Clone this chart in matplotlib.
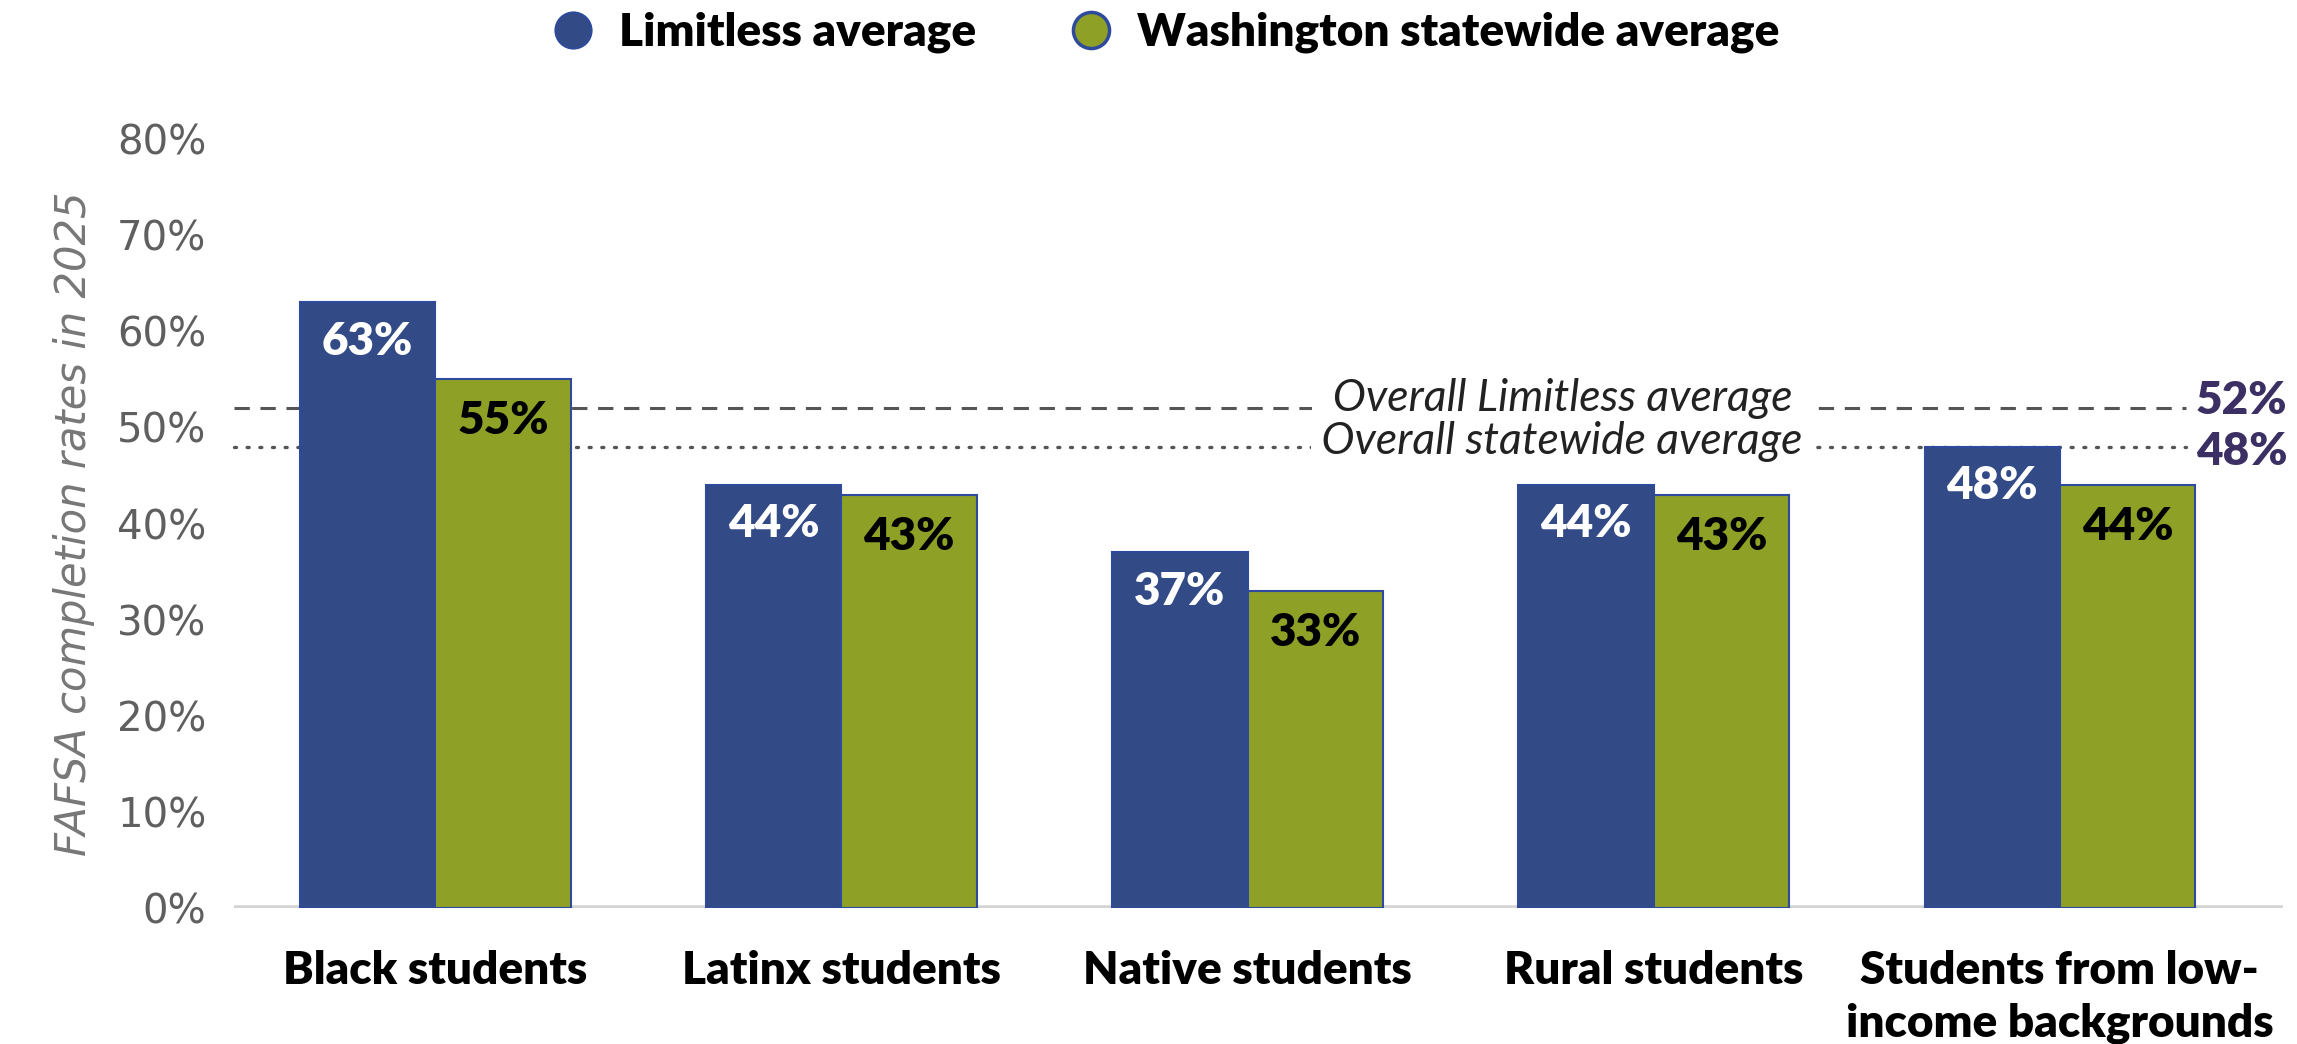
import numpy as np
import matplotlib.pyplot as plt
from matplotlib.lines import Line2D

# data
categories = ['Black students', 'Latinx students', 'Native students',
              'Rural students', 'Students from low-\nincome backgrounds']
limitless = [63, 44, 37, 44, 48]
statewide = [55, 43, 33, 43, 44]
overall_limitless = 52
overall_statewide = 48
yticks = [0, 10, 20, 30, 40, 50, 60, 70, 80]

blue = '#324a86'
green = '#8fa026'
edge = '#2e4a9c'
purple = '#3b2f63'

plt.rcParams['font.family'] = ['Lato', 'DejaVu Sans']
heavy = 'heavy'

fig = plt.figure(figsize=(22.97, 10.44), dpi=100)
ax = fig.add_axes([0.102, 0.130, 0.892, 0.737])

x = np.arange(len(categories))
w = 0.333
ax.bar(x - w / 2, limitless, w, color=blue, edgecolor=edge, linewidth=1.5, zorder=3)
ax.bar(x + w / 2, statewide, w, color=green, edgecolor=edge, linewidth=1.5, zorder=3)

for xi, v in zip(x - w / 2, limitless):
    ax.annotate(f'{v}%', (xi, v), xytext=(0, -28), textcoords='offset points',
                ha='center', va='center', color='white', fontsize=33, fontweight=heavy, zorder=5)
for xi, v in zip(x + w / 2, statewide):
    ax.annotate(f'{v}%', (xi, v), xytext=(0, -30), textcoords='offset points',
                ha='center', va='center', color='black', fontsize=33, fontweight=heavy, zorder=5)

# overall average lines
xl, xr = -0.495, 4.56
ax.plot([xl, 4.31], [overall_limitless] * 2, color='#555555', lw=2.2,
        dashes=(5, 3.5), zorder=1, clip_on=False)
ax.plot([xl, 4.31], [overall_statewide] * 2, color='#555555', lw=2.4,
        dashes=(0.6, 3.2), dash_capstyle='round', zorder=1, clip_on=False)
box = dict(facecolor='white', edgecolor='none', boxstyle='square,pad=0')
ax.text(2.775, overall_limitless + 1.0, '  Overall Limitless average  ', style='italic',
        fontsize=32, color='#222222', ha='center', va='center', zorder=2, bbox=box)
ax.text(2.775, overall_statewide + 0.5, ' Overall statewide average ', style='italic',
        fontsize=32, color='#222222', ha='center', va='center', zorder=2, bbox=box)
ax.text(xr, overall_limitless + 0.8, f'{overall_limitless}%', color=purple, fontsize=33,
        fontweight=heavy, ha='right', va='center', clip_on=False)
ax.text(xr, overall_statewide - 0.5, f'{overall_statewide}%', color=purple, fontsize=33,
        fontweight=heavy, ha='right', va='center', clip_on=False)

ax.axhline(0, color='#d4d4d4', lw=4, zorder=2)

ax.set_xlim(xl, 4.55)
ax.set_ylim(0, 80)
ax.set_yticks(yticks)
ax.set_yticklabels([f'{t}%' for t in yticks], fontsize=29, color='#5f5f5f',
                   family=['DejaVu Sans'])
ax.set_xticks(x)
ax.set_xticklabels(categories, fontsize=33, fontweight=heavy, color='black', linespacing=1.35,
                   va='top')
ax.tick_params(axis='y', length=0, pad=20)
ax.tick_params(axis='x', length=0, pad=30)
for s in ax.spines.values():
    s.set_visible(False)
ax.set_ylabel('FAFSA completion rates in 2025', fontsize=30, style='italic',
              color='#777777', family=['DejaVu Sans'], labelpad=16)

handles = [Line2D([], [], marker='o', ls='none', markersize=26, markerfacecolor=blue,
                  markeredgecolor=edge, markeredgewidth=1.5),
           Line2D([], [], marker='o', ls='none', markersize=26, markerfacecolor=green,
                  markeredgecolor=edge, markeredgewidth=2.5)]
fig.legend(handles, ['Limitless average', 'Washington statewide average'], loc='center',
           bbox_to_anchor=(0.502, 0.969), ncol=2, frameon=False, handletextpad=0.0,
           columnspacing=1.5, prop={'size': 33, 'weight': heavy})

fig.savefig('out.png', dpi=100)
